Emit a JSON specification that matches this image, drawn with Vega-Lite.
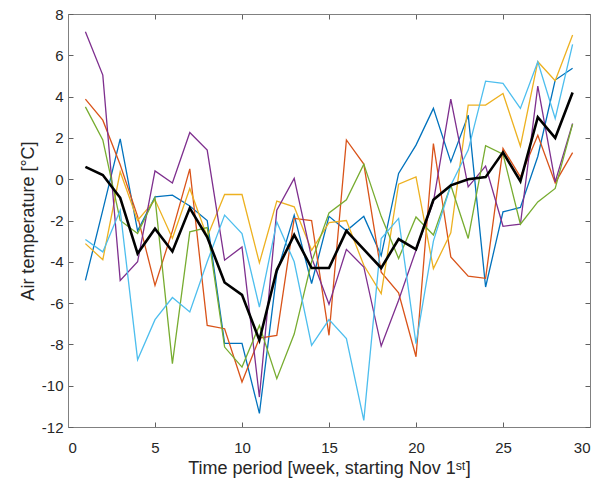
{
  "$schema": "https://vega.github.io/schema/vega-lite/v6.json",
  "width": 522,
  "height": 413,
  "autosize": {"type": "none"},
  "padding": {"left": 68, "top": 14, "right": 21, "bottom": 61},
  "background": "white",
  "config": {
    "view": {"stroke": null},
    "font": "Liberation Sans",
    "axis": {
      "grid": false,
      "domainColor": "#808080",
      "tickColor": "#606060",
      "labelColor": "#262626",
      "titleColor": "#262626",
      "labelFont": "Liberation Sans",
      "titleFont": "Liberation Sans",
      "labelFontSize": 15,
      "titleFontSize": 18,
      "titleFontWeight": "normal",
      "tickSize": -5,
      "labelPadding": 10,
      "domainWidth": 1,
      "tickWidth": 1
    }
  },
  "data": {"values": [
    {"w":1,"s":"a","t":-4.9},{"w":2,"s":"a","t":-1.5},{"w":3,"s":"a","t":1.95},{"w":4,"s":"a","t":-2.5},{"w":5,"s":"a","t":-0.86},{"w":6,"s":"a","t":-0.77},{"w":7,"s":"a","t":-1.3},{"w":8,"s":"a","t":-2.0},{"w":9,"s":"a","t":-7.95},{"w":10,"s":"a","t":-7.95},{"w":11,"s":"a","t":-11.34},{"w":12,"s":"a","t":-4.55},{"w":13,"s":"a","t":-1.74},{"w":14,"s":"a","t":-5.05},{"w":15,"s":"a","t":-1.8},{"w":16,"s":"a","t":-2.5},{"w":17,"s":"a","t":-1.8},{"w":18,"s":"a","t":-3.7},{"w":19,"s":"a","t":0.28},{"w":20,"s":"a","t":1.65},{"w":21,"s":"a","t":3.43},{"w":22,"s":"a","t":0.84},{"w":23,"s":"a","t":3.1},{"w":24,"s":"a","t":-5.22},{"w":25,"s":"a","t":-1.58},{"w":26,"s":"a","t":-1.37},{"w":27,"s":"a","t":1.1},{"w":28,"s":"a","t":4.8},{"w":29,"s":"a","t":5.37},
    {"w":1,"s":"b","t":3.88},{"w":2,"s":"b","t":2.86},{"w":3,"s":"b","t":0.7},{"w":4,"s":"b","t":-1.8},{"w":5,"s":"b","t":-5.14},{"w":6,"s":"b","t":-2.5},{"w":7,"s":"b","t":0.5},{"w":8,"s":"b","t":-7.08},{"w":9,"s":"b","t":-7.24},{"w":10,"s":"b","t":-9.82},{"w":11,"s":"b","t":-7.7},{"w":12,"s":"b","t":-7.56},{"w":13,"s":"b","t":-1.9},{"w":14,"s":"b","t":-2.0},{"w":15,"s":"b","t":-7.56},{"w":16,"s":"b","t":1.9},{"w":17,"s":"b","t":0.73},{"w":18,"s":"b","t":-4.5},{"w":19,"s":"b","t":-5.5},{"w":20,"s":"b","t":-8.6},{"w":21,"s":"b","t":1.73},{"w":22,"s":"b","t":-3.76},{"w":23,"s":"b","t":-4.7},{"w":24,"s":"b","t":-4.8},{"w":25,"s":"b","t":1.49},{"w":26,"s":"b","t":0.11},{"w":27,"s":"b","t":2.13},{"w":28,"s":"b","t":-0.18},{"w":29,"s":"b","t":1.29},
    {"w":1,"s":"c","t":-3.12},{"w":2,"s":"c","t":-3.9},{"w":3,"s":"c","t":0.36},{"w":4,"s":"c","t":-2.0},{"w":5,"s":"c","t":-1.0},{"w":6,"s":"c","t":-2.86},{"w":7,"s":"c","t":-0.45},{"w":8,"s":"c","t":-2.8},{"w":9,"s":"c","t":-0.74},{"w":10,"s":"c","t":-0.74},{"w":11,"s":"c","t":-4.05},{"w":12,"s":"c","t":-1.06},{"w":13,"s":"c","t":-1.34},{"w":14,"s":"c","t":-3.44},{"w":15,"s":"c","t":-2.1},{"w":16,"s":"c","t":-2.0},{"w":17,"s":"c","t":-4.17},{"w":18,"s":"c","t":-5.54},{"w":19,"s":"c","t":-0.24},{"w":20,"s":"c","t":0.11},{"w":21,"s":"c","t":-4.33},{"w":22,"s":"c","t":-2.6},{"w":23,"s":"c","t":3.59},{"w":24,"s":"c","t":3.59},{"w":25,"s":"c","t":4.15},{"w":26,"s":"c","t":1.6},{"w":27,"s":"c","t":5.69},{"w":28,"s":"c","t":4.77},{"w":29,"s":"c","t":6.98},
    {"w":1,"s":"d","t":7.14},{"w":2,"s":"d","t":5.04},{"w":3,"s":"d","t":-4.9},{"w":4,"s":"d","t":-4.0},{"w":5,"s":"d","t":0.4},{"w":6,"s":"d","t":-0.18},{"w":7,"s":"d","t":2.26},{"w":8,"s":"d","t":1.41},{"w":9,"s":"d","t":-3.92},{"w":10,"s":"d","t":-3.28},{"w":11,"s":"d","t":-10.55},{"w":12,"s":"d","t":-1.5},{"w":13,"s":"d","t":0.04},{"w":14,"s":"d","t":-3.8},{"w":15,"s":"d","t":-6.06},{"w":16,"s":"d","t":-3.4},{"w":17,"s":"d","t":-4.25},{"w":18,"s":"d","t":-8.08},{"w":19,"s":"d","t":-5.86},{"w":20,"s":"d","t":-3.44},{"w":21,"s":"d","t":-1.1},{"w":22,"s":"d","t":3.88},{"w":23,"s":"d","t":-0.37},{"w":24,"s":"d","t":0.63},{"w":25,"s":"d","t":-2.28},{"w":26,"s":"d","t":-2.18},{"w":27,"s":"d","t":4.51},{"w":28,"s":"d","t":-0.13},{"w":29,"s":"d","t":2.7},
    {"w":1,"s":"e","t":3.5},{"w":2,"s":"e","t":1.9},{"w":3,"s":"e","t":-2.0},{"w":4,"s":"e","t":-2.63},{"w":5,"s":"e","t":-0.89},{"w":6,"s":"e","t":-8.93},{"w":7,"s":"e","t":-2.55},{"w":8,"s":"e","t":-2.34},{"w":9,"s":"e","t":-8.13},{"w":10,"s":"e","t":-9.1},{"w":11,"s":"e","t":-7.08},{"w":12,"s":"e","t":-9.66},{"w":13,"s":"e","t":-7.5},{"w":14,"s":"e","t":-4.0},{"w":15,"s":"e","t":-1.63},{"w":16,"s":"e","t":-1.0},{"w":17,"s":"e","t":0.73},{"w":18,"s":"e","t":-1.8},{"w":19,"s":"e","t":-3.84},{"w":20,"s":"e","t":-1.83},{"w":21,"s":"e","t":-2.7},{"w":22,"s":"e","t":-0.29},{"w":23,"s":"e","t":-2.87},{"w":24,"s":"e","t":1.62},{"w":25,"s":"e","t":1.21},{"w":26,"s":"e","t":-2.18},{"w":27,"s":"e","t":-1.1},{"w":28,"s":"e","t":-0.45},{"w":29,"s":"e","t":2.67},
    {"w":1,"s":"f","t":-2.92},{"w":2,"s":"f","t":-3.52},{"w":3,"s":"f","t":-1.5},{"w":4,"s":"f","t":-8.74},{"w":5,"s":"f","t":-6.8},{"w":6,"s":"f","t":-5.73},{"w":7,"s":"f","t":-6.43},{"w":8,"s":"f","t":-4.0},{"w":9,"s":"f","t":-1.74},{"w":10,"s":"f","t":-2.63},{"w":11,"s":"f","t":-6.19},{"w":12,"s":"f","t":-2.07},{"w":13,"s":"f","t":-4.0},{"w":14,"s":"f","t":-8.05},{"w":15,"s":"f","t":-6.8},{"w":16,"s":"f","t":-7.72},{"w":17,"s":"f","t":-11.68},{"w":18,"s":"f","t":-2.87},{"w":19,"s":"f","t":-1.9},{"w":20,"s":"f","t":-7.96},{"w":21,"s":"f","t":-3.0},{"w":22,"s":"f","t":-0.29},{"w":23,"s":"f","t":1.41},{"w":24,"s":"f","t":4.75},{"w":25,"s":"f","t":4.64},{"w":26,"s":"f","t":3.43},{"w":27,"s":"f","t":5.69},{"w":28,"s":"f","t":2.94},{"w":29,"s":"f","t":6.53},
    {"w":1,"s":"m","t":0.6},{"w":2,"s":"m","t":0.2},{"w":3,"s":"m","t":-0.9},{"w":4,"s":"m","t":-3.6},{"w":5,"s":"m","t":-2.4},{"w":6,"s":"m","t":-3.5},{"w":7,"s":"m","t":-1.4},{"w":8,"s":"m","t":-2.8},{"w":9,"s":"m","t":-5.0},{"w":10,"s":"m","t":-5.6},{"w":11,"s":"m","t":-7.8},{"w":12,"s":"m","t":-4.4},{"w":13,"s":"m","t":-2.7},{"w":14,"s":"m","t":-4.3},{"w":15,"s":"m","t":-4.3},{"w":16,"s":"m","t":-2.5},{"w":17,"s":"m","t":-3.4},{"w":18,"s":"m","t":-4.3},{"w":19,"s":"m","t":-2.9},{"w":20,"s":"m","t":-3.4},{"w":21,"s":"m","t":-1.0},{"w":22,"s":"m","t":-0.3},{"w":23,"s":"m","t":0.0},{"w":24,"s":"m","t":0.1},{"w":25,"s":"m","t":1.3},{"w":26,"s":"m","t":-0.1},{"w":27,"s":"m","t":3.0},{"w":28,"s":"m","t":2.0},{"w":29,"s":"m","t":4.2}
  ]},
  "layer": [
    {
      "transform": [{"filter": "datum.s !== 'm'"}],
      "mark": {"type": "line", "strokeWidth": 1.3, "clip": true},
      "encoding": {
        "x": {"field": "w", "type": "quantitative",
              "scale": {"domain": [0, 30], "nice": false, "zero": false},
              "axis": {"orient": "bottom", "values": [0,5,10,15,20,25,30], "title": "Time period [week, starting Nov 1ˢᵗ]", "labelPadding": 18, "titlePadding": 4, "labelExpr": "toString(datum.value)"}},
        "y": {"field": "t", "type": "quantitative",
              "scale": {"domain": [-12, 8], "nice": false, "zero": false},
              "axis": {"orient": "left", "values": [-12,-10,-8,-6,-4,-2,0,2,4,6,8], "title": "Air temperature [°C]", "titlePadding": 4, "labelExpr": "toString(datum.value)"}},
        "color": {"field": "s", "type": "nominal",
                  "scale": {"domain": ["a","b","c","d","e","f"], "range": ["#0072BD","#D95319","#EDB120","#7E2F8E","#77AC30","#4DBEEE"]},
                  "legend": null}
      }
    },
    {
      "transform": [{"filter": "datum.s === 'm'"}],
      "mark": {"type": "line", "strokeWidth": 2.6, "color": "#000000", "clip": true},
      "encoding": {
        "x": {"field": "w", "type": "quantitative",
              "axis": {"orient": "top", "values": [0,5,10,15,20,25,30], "labels": false, "title": null}},
        "y": {"field": "t", "type": "quantitative",
              "axis": {"orient": "right", "values": [-12,-10,-8,-6,-4,-2,0,2,4,6,8], "labels": false, "title": null}}
      }
    }
  ]
}
